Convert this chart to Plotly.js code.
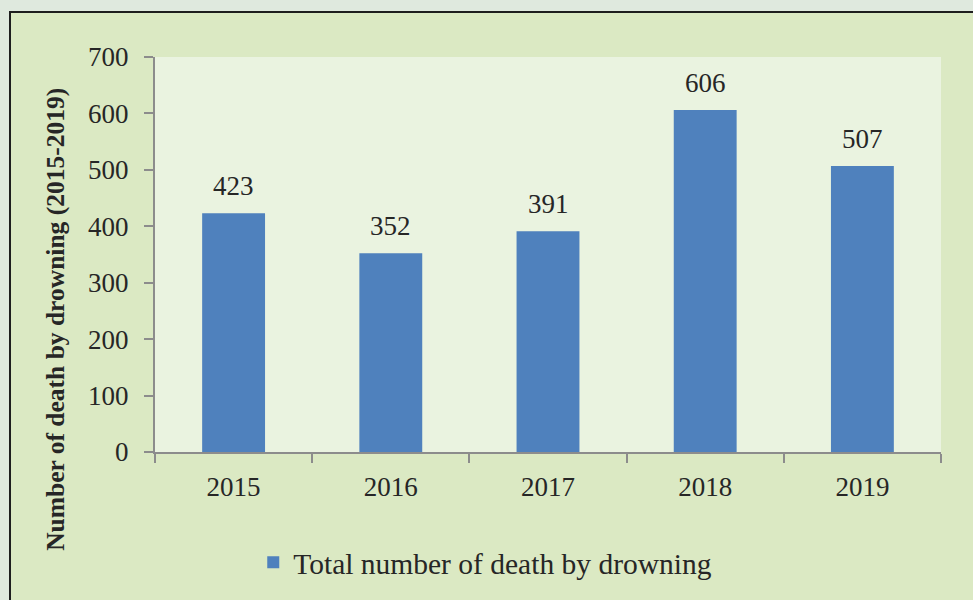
<!DOCTYPE html>
<html>
<head>
<meta charset="utf-8">
<script src="https://cdn.plot.ly/plotly-3.0.1.min.js"></script>
<style>
  html, body { margin: 0; padding: 0; width: 973px; height: 600px; overflow: hidden; background: #dfe9de; }
  #frame { position: absolute; left: 9px; top: 11px; width: 980px; height: 600px;
           border-left: 2px solid #1e1e1e; border-top: 2px solid #1e1e1e; background: #dbe9c3; }
  #chart { position: absolute; left: 0; top: 0; width: 962px; height: 587px; }
</style>
</head>
<body>
<div id="frame"><div id="chart"></div></div>
<script>
const years = ['2015', '2016', '2017', '2018', '2019'];
const deaths = [423, 352, 391, 606, 507];
const seriesName = 'Total number of death by drowning';
const yTitle = 'Number of death by drowning (2015-2019)';
const yTicks = [0, 100, 200, 300, 400, 500, 600, 700];

const serif = 'Liberation Serif, Times New Roman, serif';
const textColor = '#262626';
const axisColor = '#8c8c8c';

const trace = {
  type: 'bar',
  x: years,
  y: deaths,
  name: seriesName,
  marker: { color: '#4f81bd' },
  showlegend: true,
  hoverinfo: 'x+y'
};

// category axis: annotation x uses the category's serial index
const labelAnnotations = years.map((yr, i) => ({
  x: i, y: deaths[i], xref: 'x', yref: 'y',
  text: String(deaths[i]), showarrow: false,
  yanchor: 'bottom', yshift: 10,
  font: { family: serif, size: 27, color: textColor }
}));

const layout = {
  width: 962, height: 587,
  margin: { l: 144, r: 32, t: 44, b: 146 },
  paper_bgcolor: '#dbe9c3',
  plot_bgcolor: '#eaf3e0',
  bargap: 0.6,
  font: { family: serif, size: 27, color: textColor },
  xaxis: {
    type: 'category',
    categoryarray: years,
    range: [-0.5, years.length - 0.5],
    tickson: 'boundaries',
    ticks: 'outside', ticklen: 9, tickwidth: 2, tickcolor: axisColor,
    showline: true, linecolor: axisColor, linewidth: 2,
    showgrid: false, zeroline: false,
    tickfont: { family: serif, size: 27, color: textColor },
    ticklabelstandoff: 10
  },
  yaxis: {
    range: [0, 700],
    tickvals: yTicks,
    ticks: 'outside', ticklen: 9, tickwidth: 2, tickcolor: axisColor,
    showline: true, linecolor: axisColor, linewidth: 2,
    showgrid: false, zeroline: false,
    tickfont: { family: serif, size: 27, color: textColor },
    ticklabelstandoff: 10
  },
  legend: {
    orientation: 'h',
    x: 0.125, xanchor: 'left',
    y: -0.28, yanchor: 'middle',
    bgcolor: 'rgba(0,0,0,0)',
    font: { family: serif, size: 29.5, color: textColor },
    itemwidth: 30
  },
  annotations: labelAnnotations.concat([{
    xref: 'paper', yref: 'paper',
    x: -0.127, y: 0.335, xanchor: 'center', yanchor: 'middle',
    text: '<b>' + yTitle + '</b>', textangle: -90, showarrow: false,
    font: { family: serif, size: 25.5, color: textColor }
  }])
};

Plotly.newPlot('chart', [trace], layout, { displayModeBar: false, staticPlot: true });
</script>
</body>
</html>
